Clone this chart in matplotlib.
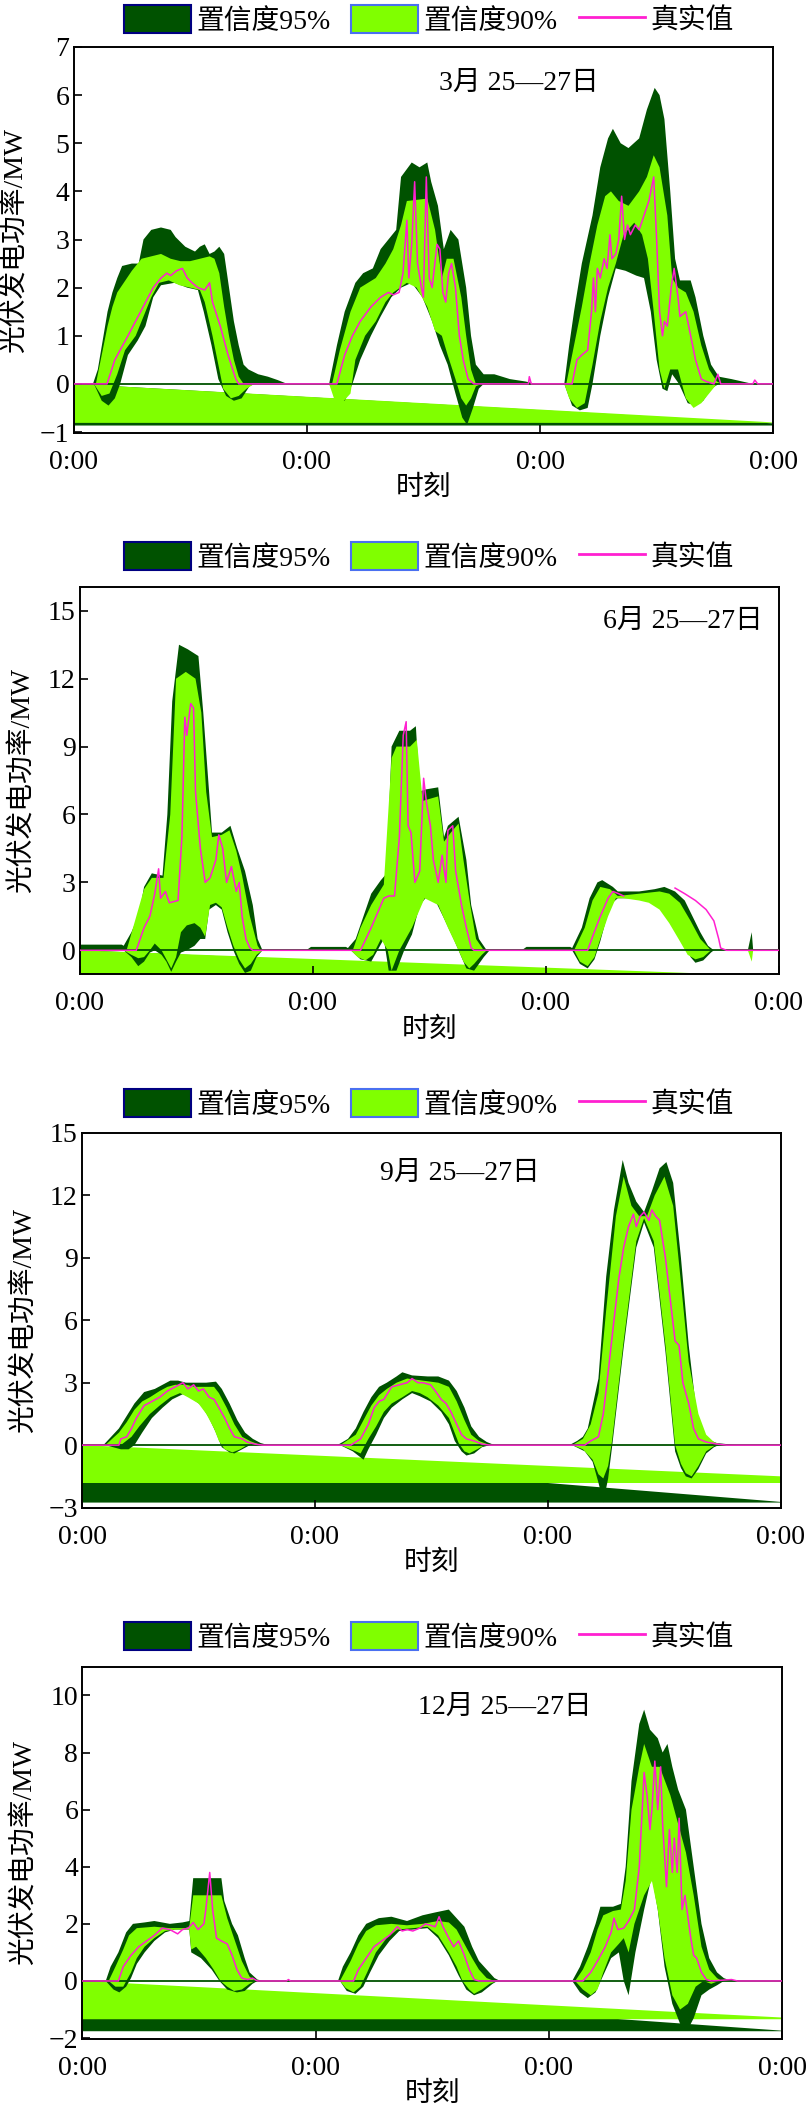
import numpy as np
import matplotlib
matplotlib.use('Agg')
import matplotlib.pyplot as plt
from matplotlib.patches import Patch
from matplotlib.lines import Line2D

plt.rcParams['font.family'] = ['Liberation Serif', 'Noto Sans CJK SC']
plt.rcParams['font.size'] = 20

DARK = '#005200'
LIGHT = '#80FF00'
PINK = '#FF20D0'

# (hour, MW) vertices, x axis 0..72 h (three days)
# ---- March ----
mar_hi95 = [(0,0),(2.0,0),(2.5,0.3),(3.0,0.9),(3.5,1.5),(4.0,1.9),(4.5,2.2),(5.0,2.45),(6.0,2.5),(6.7,2.5),(7.2,3.0),(8.0,3.2),(9.0,3.25),(10.0,3.2),(10.5,3.05),(11.0,2.95),(11.5,2.85),(12.0,2.8),(12.5,2.75),(13.0,2.85),(13.5,2.9),(14.0,2.7),(14.5,2.75),(15.0,2.85),(15.5,2.7),(16.0,2.0),(16.5,1.3),(17.0,0.8),(17.5,0.4),(18.0,0.3),(18.5,0.25),(19.0,0.2),(20.0,0.15),(21.0,0.08),(22.0,0),
            (26.3,0),(27.1,0.8),(27.9,1.5),(29.0,2.1),(29.8,2.3),(30.8,2.4),(31.6,2.8),(32.4,3.0),(33.2,3.2),(33.7,4.3),(34.8,4.6),(35.6,4.5),(36.4,4.6),(36.8,4.2),(37.5,3.7),(38.1,2.8),(38.8,3.2),(39.6,3.0),(40.4,2.0),(40.9,1.0),(41.4,0.4),(42.2,0.2),(43.3,0.2),(44.9,0.1),(46.5,0.05),(47.6,0),
            (50.5,0),(51.0,0.8),(51.5,1.5),(52.3,2.5),(53.4,3.5),(54.2,4.5),(55.0,5.1),(55.5,5.3),(56.3,5.0),(57.1,4.9),(58.2,5.1),(59.0,5.7),(59.8,6.15),(60.3,6.0),(60.8,5.5),(61.4,4.0),(61.9,2.6),(62.4,2.15),(63.5,2.15),(64.0,1.8),(64.8,1.0),(65.6,0.4),(66.4,0.15),(67.7,0.1),(68.8,0.05),(69.9,0),(72,0)]
mar_hi90 = [(0,0),(2.3,0),(3.0,0.7),(3.5,1.2),(4.0,1.6),(4.5,1.9),(5.0,2.05),(5.5,2.2),(6.0,2.35),(7.0,2.6),(8.0,2.65),(9.0,2.7),(10.0,2.6),(11.0,2.55),(12.0,2.55),(13.0,2.6),(14.0,2.65),(14.5,2.6),(15.0,2.3),(15.5,1.6),(16.0,1.0),(16.5,0.5),(17.0,0.15),(17.5,0),
            (26.6,0),(27.4,0.7),(28.5,1.5),(29.5,2.0),(31.1,2.2),(32.1,2.5),(32.9,2.8),(33.7,3.3),(34.3,3.8),(36.4,3.85),(37.2,3.2),(37.9,2.2),(38.4,2.6),(39.1,2.6),(39.9,1.8),(40.4,1.0),(40.9,0.3),(41.4,0),
            (50.7,0),(51.5,0.8),(52.3,1.6),(53.1,2.5),(53.9,3.3),(54.7,3.9),(55.3,4.0),(56.1,3.8),(57.1,3.7),(58.2,4.0),(59.0,4.3),(59.7,4.75),(60.3,4.5),(61.1,3.5),(61.6,2.2),(62.2,2.0),(63.0,1.9),(63.8,1.5),(64.6,0.8),(65.4,0.3),(66.2,0.05),(66.7,0),(72,0)]
mar_lo90 = [(0,0),(2.1,0),(2.9,-0.25),(3.7,-0.2),(4.5,0.2),(5.3,0.7),(6.4,1.0),(7.2,1.4),(8.0,1.8),(8.8,2.1),(9.8,2.15),(10.9,2.05),(12.0,2.0),(13.0,1.95),(13.5,1.7),(14.3,1.0),(14.9,0.4),(15.4,-0.1),(16.2,-0.3),(17.0,-0.25),(17.8,-0.1),(18.6,0),
            (26.3,0),(26.8,-0.3),(27.6,-0.4),(28.5,-0.2),(29.0,0.5),(30.0,1.0),(31.1,1.3),(32.1,1.7),(32.9,1.9),(34.3,2.1),(35.3,2.0),(36.4,1.6),(37.2,1.1),(37.9,1.0),(38.5,0.6),(39.3,0.1),(39.9,-0.3),(40.4,-0.45),(40.9,-0.3),(41.4,-0.05),(42.0,0),
            (50.5,0),(51.0,-0.3),(51.8,-0.5),(52.6,-0.4),(53.4,0.4),(54.2,1.3),(55.0,2.0),(55.8,2.5),(56.6,3.1),(57.7,3.35),(58.5,3.1),(59.1,2.6),(59.7,1.5),(60.3,0.3),(60.8,-0.1),(61.4,0.3),(62.2,0.3),(63.0,-0.3),(63.8,-0.5),(64.6,-0.4),(65.4,-0.2),(66.2,0),(72,0)]
mar_lo95 = [(0,0),(2.1,0),(2.9,-0.35),(3.6,-0.45),(4.25,-0.3),(4.8,0.0),(5.6,0.6),(6.6,0.9),(7.4,1.2),(8.2,1.8),(9.0,2.05),(10.4,2.1),(11.7,2.0),(12.8,1.95),(13.4,1.5),(14.2,0.8),(14.9,0.1),(15.7,-0.25),(16.5,-0.35),(17.3,-0.3),(18.1,-0.05),(18.6,0),
            (26.3,0),(27.1,-0.3),(27.9,-0.35),(28.7,0.0),(29.5,0.5),(30.6,1.0),(31.6,1.4),(32.7,1.8),(33.7,2.0),(34.8,2.1),(35.9,1.8),(36.9,1.3),(37.7,0.8),(38.5,0.4),(39.3,-0.2),(40.0,-0.7),(40.5,-0.85),(41.1,-0.5),(41.7,-0.1),(42.2,0),
            (50.5,0),(51.3,-0.45),(52.1,-0.55),(52.9,-0.5),(53.4,0.0),(54.2,1.0),(55.0,1.8),(55.8,2.4),(56.8,2.35),(57.9,2.25),(58.7,2.2),(59.4,1.5),(60.0,0.5),(60.6,-0.1),(61.1,-0.15),(61.6,0.2),(62.3,0.0),(63.2,-0.4),(64.0,-0.45),(64.8,-0.35),(65.6,-0.1),(66.4,0),(72,0)]
mar_real = [(0,0),(3.45,0),(4.25,0.5),(5.6,1.0),(6.9,1.5),(8.2,2.0),(9.0,2.2),(9.6,2.3),(10.0,2.25),(10.6,2.35),(11.2,2.4),(11.7,2.2),(12.2,2.1),(12.8,2.0),(13.5,1.95),(14.0,2.1),(14.3,1.7),(15.1,1.2),(15.9,0.6),(16.7,0.1),(17.0,0),
            (27.1,0),(27.9,0.6),(28.7,1.0),(29.5,1.3),(30.6,1.6),(31.6,1.8),(32.4,1.9),(32.9,1.85),(33.5,1.9),(33.9,2.3),(34.3,3.4),(34.5,2.2),(34.8,2.9),(35.1,4.2),(35.4,2.5),(35.8,2.0),(36.0,1.8),(36.3,4.3),(36.6,2.2),(36.9,2.0),(37.4,2.9),(37.7,2.8),(38.0,1.9),(38.3,1.7),(38.6,2.3),(38.9,2.5),(39.3,2.0),(39.7,1.0),(40.1,0.5),(40.6,0.1),(41.2,0),(46.8,0),(46.9,0.15),(47.1,0),
            (51.3,0),(51.8,0.5),(52.3,0.6),(52.9,0.7),(53.3,1.5),(53.5,2.2),(53.7,1.5),(53.9,2.4),(54.2,2.2),(54.6,2.6),(54.9,2.4),(55.2,3.1),(55.4,2.6),(55.8,2.7),(56.1,3.0),(56.4,3.9),(56.7,3.0),(57.0,3.3),(57.3,3.1),(57.8,3.3),(58.2,3.2),(58.7,3.5),(59.2,3.8),(59.7,4.3),(60.0,3.0),(60.3,1.5),(60.6,1.0),(60.8,1.3),(61.1,1.2),(61.5,2.0),(61.8,2.4),(62.2,1.8),(62.4,1.4),(63.0,1.5),(63.5,1.0),(64.0,0.5),(64.6,0.1),(65.1,0.05),(65.9,0),(66.3,0.2),(66.6,0),(69.9,0),(70.1,0.08),(70.4,0),(72,0)]
mar_wedge = [-0.80, -0.81, -0.82, -0.865]

# ---- June ----
jun_hi95 = [(0,0.25),(4.3,0.25),(4.5,0.2),(5.3,0.8),(6.1,1.6),(6.6,2.8),(7.4,3.4),(8.5,3.3),(9.0,6.0),(9.5,11.0),(10.2,13.5),(11.1,13.3),(12.2,13.0),(12.7,10.5),(13.3,7.0),(13.6,5.2),(14.6,5.2),(15.5,5.5),(16.2,4.5),(17.0,3.5),(17.8,2.0),(18.3,0.5),(18.8,0),
            (23.3,0),(23.8,0.15),(27.4,0.15),(27.6,0.1),(28.4,0.5),(29.2,1.5),(30.0,2.5),(31.0,3.1),(31.6,3.4),(32.1,9.0),(32.9,9.7),(34.0,9.7),(34.6,9.9),(35.0,7.0),(35.5,7.1),(36.9,7.2),(37.5,5.0),(37.9,5.5),(39.0,5.9),(39.8,4.0),(40.3,2.0),(41.1,0.5),(41.9,0),
            (45.5,0),(46.0,0.15),(50.5,0.15),(50.7,0.1),(51.7,1.0),(52.5,2.3),(53.3,3.0),(53.8,3.1),(54.9,2.8),(55.4,2.6),(57.6,2.6),(59.2,2.7),(60.2,2.8),(61.3,2.6),(62.3,2.2),(63.1,1.5),(63.9,0.8),(64.7,0.2),(65.3,0),
            (68.8,0),(69.2,0.8),(69.35,0),(72,0)]
jun_hi90 = [(0,0),(4.8,0),(5.8,1.5),(6.6,2.7),(7.4,3.2),(8.6,3.2),(9.3,6.0),(9.9,12.0),(10.9,12.3),(11.9,12.0),(12.5,10.5),(13.0,7.0),(13.6,5.0),(14.6,5.1),(15.4,5.3),(16.1,4.4),(16.7,3.3),(17.5,1.5),(18.3,0.2),(18.6,0),
            (28.1,0),(28.9,1.0),(30.0,2.0),(31.3,2.9),(32.1,8.5),(32.6,9.0),(34.0,9.0),(34.7,9.3),(35.3,6.6),(36.9,6.8),(37.5,4.8),(38.2,5.2),(39.0,5.6),(39.5,4.0),(40.2,2.0),(40.8,0.5),(41.6,0),
            (50.9,0),(52.0,1.0),(52.8,2.2),(53.6,2.8),(54.6,2.7),(55.4,2.4),(57.6,2.5),(59.7,2.6),(60.7,2.5),(61.8,2.1),(62.9,1.3),(63.9,0.5),(65.0,0),(72,0)]
jun_lo90 = [(0,0),(4.5,0),(5.3,-0.2),(6.0,-0.35),(6.6,-0.3),(7.2,0.0),(7.7,0.3),(8.4,0.0),(8.9,-0.4),(9.4,-0.8),(9.9,-0.3),(10.4,0.8),(11.0,1.1),(11.8,1.2),(12.4,1.0),(12.9,0.6),(13.4,2.0),(14.0,2.1),(14.6,1.9),(15.2,1.0),(15.8,0.2),(16.4,-0.4),(17.0,-0.8),(17.6,-0.6),(18.2,-0.2),(18.8,0),
            (27.9,0),(28.6,-0.3),(29.4,-0.45),(30.2,-0.2),(31.0,0.5),(31.7,0.0),(32.1,-0.9),(32.9,0.0),(34.2,1.0),(34.7,1.5),(35.5,2.3),(36.9,2.0),(37.9,1.0),(39.0,0.0),(39.5,-0.5),(40.1,-0.8),(40.6,-0.6),(41.4,-0.2),(41.9,0),
            (50.9,0),(51.5,-0.5),(52.3,-0.7),(53.0,-0.3),(53.6,0.5),(54.4,1.5),(55.2,2.3),(56.0,2.3),(57.6,2.2),(58.6,2.1),(59.7,1.8),(60.7,1.2),(61.8,0.4),(62.6,-0.2),(63.4,-0.4),(64.2,-0.3),(65.0,0),
            (68.8,0),(69.2,-0.5),(69.35,0),(72,0)]
jun_lo95 = [(0,0),(4.5,0),(5.3,-0.3),(6.0,-0.7),(6.6,-0.5),(7.2,-0.1),(7.7,0.0),(8.4,-0.2),(8.9,-0.5),(9.4,-0.95),(9.9,-0.5),(10.4,-0.1),(11.0,0.0),(11.8,0.2),(12.4,0.5),(12.9,0.5),(13.3,1.8),(14.0,2.0),(14.6,1.8),(15.2,0.8),(15.8,0.0),(16.4,-0.6),(17.0,-1.0),(17.6,-0.9),(18.2,-0.3),(18.8,0),
            (27.9,0),(28.9,-0.4),(30.0,-0.5),(31.3,0.5),(31.8,-0.9),(32.6,-0.9),(33.4,0.0),(34.2,0.7),(35.0,2.0),(35.8,2.4),(36.6,2.2),(37.4,1.5),(38.5,0.5),(39.3,-0.3),(39.8,-0.8),(40.6,-0.9),(41.6,-0.3),(42.2,0),
            (50.7,0),(51.5,-0.6),(52.3,-0.8),(53.0,-0.4),(53.6,0.4),(54.6,2.0),(55.4,2.3),(57.6,2.3),(59.2,2.2),(60.2,1.9),(61.0,1.2),(62.1,0.4),(62.9,-0.3),(63.4,-0.55),(64.2,-0.45),(65.0,-0.1),(65.3,0),(72,0)]
jun_real = [(0,0),(5.8,0),(6.6,1.0),(7.2,1.5),(7.7,2.5),(8.1,3.6),(8.3,2.3),(8.8,2.6),(9.2,2.1),(10.1,2.2),(10.5,5.0),(10.8,10.3),(11.0,9.5),(11.4,10.9),(11.7,10.7),(11.9,7.0),(12.4,4.5),(12.9,3.0),(13.4,3.2),(14.0,4.0),(14.3,5.1),(14.7,4.5),(15.1,3.0),(15.6,3.7),(16.1,2.6),(16.4,3.0),(16.7,1.5),(17.1,0.5),(17.5,0.1),(17.8,0),
            (28.9,0),(30.0,1.0),(30.8,1.8),(31.3,2.3),(31.8,2.4),(32.4,2.4),(32.9,5.0),(33.3,9.5),(33.6,10.1),(33.8,5.5),(34.1,5.2),(34.5,3.0),(35.0,3.5),(35.4,7.6),(35.7,6.5),(36.1,5.5),(36.4,4.0),(36.9,3.0),(37.3,4.2),(37.7,3.0),(37.9,5.3),(38.4,5.5),(38.7,3.5),(39.3,2.0),(39.8,1.0),(40.3,0.1),(40.6,0),
            (50.9,0),(52.3,0.0),(52.8,0.6),(53.6,1.5),(54.4,2.3),(54.9,2.6),(55.5,2.5),(56.0,2.4),(56.1,np.nan),(61.3,2.75),(62.3,2.5),(63.4,2.2),(64.5,1.8),(65.3,1.3),(65.8,0.5),(66.0,0.1),(66.6,0),(72,0)]
jun_wedge = [-1.15, -1.3, -1.3, -1.3]

# ---- September ----
sep_hi95 = [(0,0),(2.2,0),(3.0,0.4),(3.8,0.8),(4.6,1.4),(5.4,2.0),(6.4,2.55),(7.5,2.7),(8.3,2.9),(9.1,3.1),(9.9,3.1),(10.7,3.0),(11.7,3.0),(12.8,3.0),(13.8,3.05),(14.4,2.7),(15.2,2.0),(16.0,1.2),(16.8,0.6),(17.6,0.3),(18.4,0.1),(19.2,0),
            (26.3,0),(27.4,0.3),(28.2,0.8),(29.0,1.6),(29.8,2.3),(30.6,2.8),(31.4,3.0),(32.4,3.3),(33.0,3.5),(34.0,3.35),(35.6,3.3),(36.7,3.3),(37.8,3.1),(38.6,2.6),(39.4,1.8),(40.1,0.9),(40.9,0.4),(41.7,0.15),(42.5,0),
            (50.2,0),(51.0,0.2),(51.6,0.4),(52.1,0.8),(53.2,3.2),(54.0,8.1),(54.8,11.3),(55.7,13.7),(56.3,12.6),(57.1,11.7),(57.9,11.2),(58.7,12.2),(59.5,13.3),(60.2,13.6),(60.9,12.6),(61.7,9.0),(62.5,4.8),(63.3,1.6),(64.3,0.3),(65.4,0.1),(66.4,0.05),(67.5,0),(72,0)]
sep_hi90 = [(0,0),(2.4,0),(3.8,0.6),(4.6,1.1),(5.4,1.7),(6.2,2.1),(7.0,2.3),(8.0,2.6),(8.8,2.8),(9.6,2.9),(10.7,2.9),(11.7,2.8),(13.1,2.8),(13.6,2.8),(14.1,2.5),(14.9,1.8),(15.7,1.0),(16.5,0.4),(17.3,0.2),(18.4,0),
            (26.6,0),(28.2,0.5),(29.0,1.2),(29.8,1.9),(30.6,2.4),(31.4,2.7),(32.4,3.0),(33.5,3.2),(35.1,3.1),(36.7,3.0),(37.8,2.8),(38.6,2.1),(39.4,1.2),(40.1,0.5),(40.9,0.2),(42.0,0),
            (50.5,0),(51.6,0.3),(52.4,1.0),(53.2,2.5),(54.0,6.5),(55.0,11.0),(55.8,12.9),(56.6,11.5),(57.4,11.0),(58.2,11.0),(59.0,12.0),(60.0,12.9),(60.9,11.5),(61.7,7.8),(62.5,4.0),(63.5,1.5),(64.3,0.5),(65.1,0.15),(65.9,0),(72,0)]
sep_lo90 = [(0,0),(2.4,0),(4.0,0.0),(5.1,0.4),(5.9,0.9),(7.0,1.5),(8.0,1.9),(9.1,2.3),(10.1,2.5),(10.9,2.3),(12.0,2.0),(12.8,1.5),(13.6,0.8),(14.1,0.2),(14.7,-0.2),(15.5,-0.35),(16.3,-0.2),(17.0,0),
            (26.6,0),(27.7,-0.2),(28.7,-0.4),(29.5,0.3),(30.3,0.9),(31.1,1.6),(31.9,2.0),(33.0,2.3),(34.0,2.6),(34.8,2.5),(35.6,2.3),(36.7,1.9),(37.8,1.3),(38.3,0.7),(38.8,0.1),(39.4,-0.3),(39.9,-0.4),(40.7,-0.2),(41.5,0),
            (50.5,0),(51.6,-0.2),(52.6,-0.7),(53.2,-1.4),(53.7,-1.6),(54.2,-1.0),(54.6,0.2),(55.8,5.0),(57.1,9.8),(57.9,10.9),(58.9,9.8),(60.1,4.8),(61.1,0.0),(61.7,-0.9),(62.2,-1.35),(62.8,-1.5),(63.5,-1.0),(64.3,-0.3),(65.1,-0.05),(65.6,0),(72,0)]
sep_lo95 = [(0,0),(2.4,0),(4.0,-0.2),(4.8,-0.2),(5.4,0.0),(6.2,0.6),(7.2,1.3),(8.3,1.8),(9.3,2.2),(10.4,2.45),(11.2,2.3),(12.3,1.9),(13.1,1.3),(13.8,0.6),(14.4,-0.1),(15.2,-0.35),(15.7,-0.4),(16.5,-0.2),(17.3,0),
            (26.6,0),(27.9,-0.3),(29.0,-0.7),(29.5,-0.2),(30.3,0.5),(31.1,1.3),(31.9,1.8),(33.0,2.2),(34.0,2.5),(34.8,2.35),(35.9,2.1),(37.0,1.6),(37.8,1.0),(38.4,0.2),(39.1,-0.3),(39.6,-0.5),(40.4,-0.4),(41.2,-0.1),(42.0,0),
            (50.5,0),(51.8,-0.3),(52.6,-0.8),(53.2,-1.8),(53.7,-2.75),(54.2,-1.6),(54.6,-0.1),(55.8,4.7),(57.1,9.5),(57.9,10.7),(58.9,9.5),(60.1,4.5),(61.1,-0.3),(61.7,-1.1),(62.2,-1.5),(62.8,-1.6),(63.5,-1.15),(64.3,-0.4),(65.1,-0.1),(65.6,0),(72,0)]
sep_real = [(0,0),(2.4,0),(3.8,0.0),(4.0,0.3),(4.6,0.4),(5.1,0.8),(5.6,1.3),(6.4,1.9),(7.2,2.1),(8.0,2.3),(8.8,2.6),(9.6,2.8),(10.4,3.0),(10.9,2.7),(11.5,2.9),(12.0,2.6),(12.5,2.7),(13.1,2.3),(13.6,2.2),(14.1,1.8),(14.7,1.3),(15.2,0.8),(15.7,0.4),(16.5,0.3),(17.0,0.15),(17.8,0.05),(18.6,0),
            (27.7,0),(28.7,0.3),(29.5,1.0),(30.1,1.8),(30.6,2.1),(31.1,2.2),(31.9,2.8),(32.7,2.9),(33.5,3.0),(34.0,3.2),(34.6,3.0),(35.1,3.0),(35.9,2.9),(36.4,2.6),(37.0,2.2),(37.5,2.0),(38.0,1.6),(38.6,1.0),(39.1,0.5),(39.6,0.3),(40.4,0.2),(41.2,0.05),(42.0,0),
            (50.5,0),(51.8,0.0),(52.4,0.2),(53.2,0.4),(53.7,1.5),(54.2,3.5),(54.8,6.0),(55.3,8.0),(55.8,9.5),(56.3,10.5),(56.8,11.1),(57.1,10.5),(57.5,11.0),(57.9,11.2),(58.4,10.8),(58.7,11.3),(59.1,11.0),(59.5,10.8),(60.1,9.0),(60.6,7.0),(61.1,5.0),(61.5,4.8),(61.9,3.0),(62.5,2.0),(63.0,0.8),(63.5,0.3),(64.3,0.15),(65.4,0.05),(66.4,0),(72,0)]
sep_wedge = [-1.5, -1.82, -2.73, -2.76]

# ---- December ----
dec_hi95 = [(0,0),(2.4,0),(2.9,0.5),(3.7,1.0),(4.5,1.7),(5.2,2.0),(6.4,2.05),(7.4,2.1),(9.0,2.0),(10.3,2.05),(11.0,2.1),(11.4,3.6),(12.5,3.6),(14.3,3.6),(14.6,2.8),(15.4,2.0),(16.0,1.6),(16.7,0.8),(17.2,0.3),(18.0,0.05),(18.6,0),
            (26.3,0),(26.8,0.5),(27.6,1.0),(28.4,1.6),(29.2,2.0),(30.5,2.2),(31.8,2.25),(33.4,2.1),(35.0,2.3),(36.3,2.4),(37.7,2.5),(38.5,2.2),(39.3,1.9),(40.1,1.2),(40.8,0.7),(41.6,0.4),(42.4,0.1),(43.0,0),
            (50.4,0),(51.2,0.5),(52.0,1.2),(52.8,2.0),(53.3,2.6),(54.6,2.6),(55.4,2.7),(55.9,4.0),(56.5,7.0),(57.3,9.0),(57.8,9.5),(58.4,8.8),(59.2,8.5),(59.7,8.0),(60.2,8.3),(60.7,7.5),(61.3,6.7),(62.1,6.0),(62.9,4.0),(63.7,2.0),(64.5,0.8),(65.3,0.3),(66.0,0.1),(66.8,0),(72,0)]
dec_hi90 = [(0,0),(2.7,0),(3.4,0.5),(4.2,1.1),(4.8,1.6),(5.6,1.85),(7.4,1.9),(9.0,1.85),(10.6,1.85),(11.0,1.9),(11.4,3.0),(12.7,3.0),(14.3,3.0),(14.9,2.2),(15.6,1.5),(16.4,0.7),(17.2,0.15),(17.8,0),
            (26.5,0),(27.6,0.7),(28.4,1.3),(29.2,1.75),(30.2,1.95),(31.8,2.0),(33.4,1.95),(35.0,2.0),(36.6,2.1),(37.7,2.05),(38.5,1.8),(39.3,1.3),(40.1,0.8),(40.8,0.4),(41.6,0.1),(42.4,0),
            (50.7,0),(51.5,0.4),(52.3,1.0),(53.0,1.8),(53.6,2.3),(54.6,2.45),(55.4,2.5),(55.9,3.5),(56.5,6.0),(57.3,7.5),(57.8,8.3),(58.6,7.5),(59.4,7.5),(60.5,6.5),(61.3,5.5),(62.1,4.5),(62.9,3.0),(63.7,1.2),(64.5,0.4),(65.3,0.1),(65.8,0),(72,0)]
dec_lo90 = [(0,0),(2.7,0),(3.4,-0.2),(4.2,-0.2),(5.0,0.3),(5.6,0.8),(6.4,1.2),(7.4,1.5),(8.5,1.75),(9.5,1.8),(11.0,1.8),(11.2,1.1),(11.7,1.2),(12.7,0.8),(13.5,0.4),(14.2,0.0),(14.9,-0.2),(15.6,-0.35),(16.4,-0.3),(17.2,-0.1),(17.8,0),
            (26.5,0),(27.1,-0.25),(27.9,-0.4),(28.6,-0.2),(29.3,0.3),(30.2,1.0),(31.3,1.5),(32.4,1.8),(34.0,1.85),(35.5,1.9),(36.6,1.6),(37.7,1.0),(38.5,0.5),(39.1,0.0),(39.8,-0.3),(40.3,-0.45),(41.1,-0.3),(41.9,-0.1),(42.7,0),
            (50.7,0),(51.5,-0.3),(52.3,-0.5),(53.0,-0.3),(53.6,0.3),(54.4,1.0),(55.2,1.3),(55.7,1.5),(56.2,1.0),(56.8,2.0),(57.8,3.0),(58.6,3.5),(59.2,2.5),(59.9,0.8),(60.7,-0.5),(61.5,-1.0),(62.3,-0.8),(63.1,-0.2),(63.9,0.0),(64.7,-0.1),(65.5,0),(72,0)]
dec_lo95 = [(0,0),(2.4,0),(3.2,-0.3),(3.8,-0.4),(4.5,-0.2),(5.0,0.1),(5.6,0.6),(6.4,1.0),(7.4,1.4),(8.5,1.7),(9.5,1.8),(11.0,1.8),(11.2,1.0),(12.2,0.8),(13.3,0.4),(14.1,0.0),(14.9,-0.3),(15.9,-0.4),(16.7,-0.35),(17.5,-0.1),(18.0,0),
            (26.5,0),(27.2,-0.35),(28.1,-0.45),(28.9,-0.2),(29.6,0.3),(30.5,0.9),(31.6,1.4),(32.6,1.75),(34.0,1.8),(35.5,1.85),(36.6,1.5),(37.7,0.9),(38.7,0.2),(39.5,-0.3),(40.3,-0.5),(41.1,-0.4),(42.2,-0.1),(42.7,0),
            (50.4,0),(51.2,-0.4),(52.0,-0.6),(52.8,-0.4),(53.6,0.2),(54.4,0.8),(55.2,1.0),(55.7,0.0),(56.2,-0.5),(56.9,1.0),(57.8,2.5),(58.6,3.7),(59.2,2.5),(59.9,0.5),(60.7,-0.8),(61.5,-1.5),(62.3,-1.7),(62.9,-1.3),(63.7,-0.5),(64.5,-0.3),(65.3,-0.15),(66.0,0),(72,0)]
dec_real = [(0,0),(3.7,0),(4.2,0.5),(5.0,0.9),(5.8,1.2),(6.6,1.4),(7.4,1.6),(8.2,1.85),(9.0,1.8),(9.8,1.65),(10.3,1.8),(10.9,1.85),(11.4,2.05),(11.9,1.8),(12.5,2.0),(12.7,2.5),(13.1,3.8),(13.4,2.5),(13.8,1.5),(14.3,1.4),(14.9,1.3),(15.4,0.9),(15.9,0.4),(16.4,0.1),(17.0,0.05),(17.5,0.1),(18.0,0),(21.0,0),(21.2,0.05),(21.4,0),
            (27.9,0),(28.4,0.4),(29.2,0.8),(30.0,1.2),(30.8,1.4),(31.6,1.6),(32.4,1.9),(32.9,1.75),(33.4,1.8),(34.0,1.75),(34.7,1.85),(35.3,2.0),(35.8,1.95),(36.3,1.9),(36.7,2.25),(37.1,1.9),(37.7,1.5),(38.2,1.2),(38.7,1.4),(39.3,0.9),(39.8,0.4),(40.3,0.05),(40.8,0),
            (51.5,0),(52.3,0.3),(53.0,0.7),(53.8,1.2),(54.4,1.7),(54.7,2.2),(55.1,1.8),(55.7,1.85),(56.2,2.1),(56.8,2.5),(57.3,4.0),(57.6,6.0),(57.8,7.3),(58.1,6.5),(58.4,5.3),(58.6,6.0),(58.9,7.7),(59.2,6.0),(59.5,7.5),(59.7,5.5),(60.1,3.3),(60.4,5.3),(60.7,3.8),(60.9,5.0),(61.2,3.8),(61.4,5.7),(61.7,2.5),(62.0,3.0),(62.2,2.5),(62.6,1.5),(62.9,0.9),(63.2,0.8),(63.7,0.3),(64.2,0.05),(64.7,0),(66.8,0.05),(67.4,0),(72,0)]
dec_wedge = [-1.28, -1.34, -1.74, -1.76]

titles = ['3月 25—27日', '6月 25—27日', '9月 25—27日', '12月 25—27日']
title_pos = [(0.636, 0.907), (0.863, 0.912), (0.54, 0.893), (0.603, 0.892)]
ylims = [(-1.02, 7), (-1.05, 16.05), (-3.02, 15), (-2.03, 11)]
yticks = [np.arange(-1, 8, 1), np.arange(0, 16, 3), np.arange(-3, 16, 3), np.arange(-2, 11, 2)]
rects = [(0.091, 0.7945, 0.866, 0.1832), (0.099, 0.5377, 0.865, 0.1837),
         (0.1015, 0.2843, 0.865, 0.178), (0.102, 0.0323, 0.866, 0.1766)]
legend_y = [0.9905, 0.7356, 0.476, 0.2231]

panels = [(mar_hi95, mar_hi90, mar_lo90, mar_lo95, mar_real, mar_wedge),
          (jun_hi95, jun_hi90, jun_lo90, jun_lo95, jun_real, jun_wedge),
          (sep_hi95, sep_hi90, sep_lo90, sep_lo95, sep_real, sep_wedge),
          (dec_hi95, dec_hi90, dec_lo90, dec_lo95, dec_real, dec_wedge)]


def xy(pts):
    a = np.array(pts, dtype=float)
    return a[:, 0], a[:, 1]


def band(ax, hi, lo, color, z):
    xh, yh = xy(hi)
    xl, yl = xy(lo)
    ax.fill(np.concatenate([xh, xl[::-1]]), np.concatenate([yh, yl[::-1]]),
            color=color, lw=0, zorder=z)


fig = plt.figure(figsize=(8.08, 21.07), dpi=100)

handles = [Patch(facecolor=DARK, edgecolor='#000080', lw=1.5),
           Patch(facecolor=LIGHT, edgecolor='#4a70f0', lw=1.5),
           Line2D([], [], color=PINK, lw=2)]
labels = ['置信度95%', '置信度90%', '真实值']

for i, (hi95, hi90, lo90, lo95, real, wedge) in enumerate(panels):
    ax = fig.add_axes(rects[i])
    # closing artefacts of the original area fills
    ax.fill([0, 72, 72, 0], [0, wedge[2], wedge[3], wedge[3]], color=DARK, lw=0, zorder=1)
    ax.fill([0, 72, 72, 0], [0, wedge[0], wedge[1], wedge[1]], color=LIGHT, lw=0, zorder=1.1)
    band(ax, hi95, lo95, DARK, 2)
    band(ax, hi90, lo90, LIGHT, 2.1)
    ax.axhline(0, color=DARK, lw=1.3, zorder=3)
    xr, yr = xy(real)
    ax.plot(xr, yr, color=PINK, lw=1.1, zorder=4)

    ax.set_xlim(0, 72)
    ax.set_ylim(*ylims[i])
    ax.set_xticks([0, 24, 48, 72])
    ax.set_xticklabels(['0:00'] * 4)
    ax.set_yticks(yticks[i])
    ax.tick_params(direction='in', length=6, width=1.2, top=False, right=False)
    ax.tick_params(axis='x', pad=12)
    ax.tick_params(axis='y', pad=3)
    for s in ax.spines.values():
        s.set_linewidth(1.4)
    ax.set_xlabel('时刻', labelpad=1)
    ax.set_ylabel('光伏发电功率/MW')
    ax.yaxis.set_label_coords(-0.065, 0.5)
    ax.text(title_pos[i][0], title_pos[i][1], titles[i], transform=ax.transAxes,
            ha='center', va='center', zorder=5)

    fig.legend(handles, labels, loc='center', bbox_to_anchor=(0.531, legend_y[i]),
               ncol=3, frameon=False, handlelength=2.4, handleheight=1.18,
               handletextpad=0.2, columnspacing=0.75, borderpad=0, borderaxespad=0)

fig.savefig('out.png', dpi=100)
